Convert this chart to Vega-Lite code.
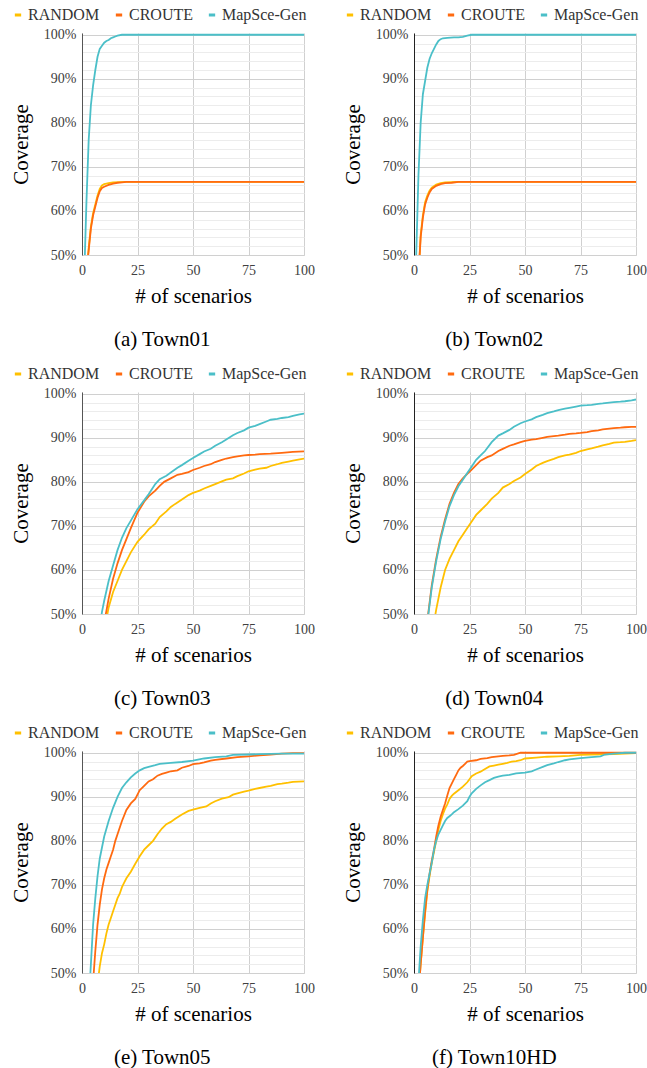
{
"$schema": "https://vega.github.io/schema/vega-lite/v6.json",
"padding": {"left": 10, "top": 7, "right": 0, "bottom": 0},
"config": {
  "font": "Liberation Serif, Times New Roman, serif",
  "view": {"stroke": null},
  "axis": {"labelFont": "Liberation Serif, Times New Roman, serif", "titleFont": "Liberation Serif, Times New Roman, serif", "labelFontSize": 14, "labelColor": "#404040", "titleFontSize": 21, "titleFontWeight": "normal", "titleColor": "#000000", "ticks": false, "labelOverlap": false, "labelFlush": false},
  "legend": {"labelFont": "Liberation Serif, Times New Roman, serif"},
  "title": {"font": "Liberation Serif, Times New Roman, serif", "fontSize": 21, "fontWeight": "normal", "color": "#000000", "orient": "bottom", "frame": "bounds", "anchor": "middle", "offset": 23}
},
"spacing": {"row": 16, "column": 27},
"columns": 2,
"resolve": {"scale": {"color": "independent"}, "legend": {"color": "independent"}},
"datasets": {"d": [
{"t":"a","m":"R","x":0,"y":35},{"t":"a","m":"R","x":2,"y":46},{"t":"a","m":"R","x":3,"y":51.5},{"t":"a","m":"R","x":4,"y":56.5},{"t":"a","m":"R","x":5,"y":59.5},{"t":"a","m":"R","x":6,"y":61.5},{"t":"a","m":"R","x":7,"y":63.5},{"t":"a","m":"R","x":8,"y":65},{"t":"a","m":"R","x":9,"y":65.8},{"t":"a","m":"R","x":10,"y":66.1},{"t":"a","m":"R","x":12,"y":66.3},{"t":"a","m":"R","x":14,"y":66.5},{"t":"a","m":"R","x":20,"y":66.6},{"t":"a","m":"R","x":100,"y":66.6},
{"t":"a","m":"C","x":0,"y":35},{"t":"a","m":"C","x":2,"y":46},{"t":"a","m":"C","x":3,"y":51},{"t":"a","m":"C","x":4,"y":56},{"t":"a","m":"C","x":5,"y":59},{"t":"a","m":"C","x":6,"y":61},{"t":"a","m":"C","x":7,"y":63},{"t":"a","m":"C","x":8,"y":64.5},{"t":"a","m":"C","x":9,"y":65.2},{"t":"a","m":"C","x":10,"y":65.5},{"t":"a","m":"C","x":12,"y":65.9},{"t":"a","m":"C","x":14,"y":66.2},{"t":"a","m":"C","x":16,"y":66.4},{"t":"a","m":"C","x":18,"y":66.5},{"t":"a","m":"C","x":20,"y":66.6},{"t":"a","m":"C","x":100,"y":66.6},
{"t":"a","m":"M","x":0,"y":30},{"t":"a","m":"M","x":1,"y":45},{"t":"a","m":"M","x":2,"y":62},{"t":"a","m":"M","x":3,"y":76},{"t":"a","m":"M","x":4,"y":84},{"t":"a","m":"M","x":5,"y":88.5},{"t":"a","m":"M","x":6,"y":92},{"t":"a","m":"M","x":7,"y":95},{"t":"a","m":"M","x":8,"y":96.8},{"t":"a","m":"M","x":9,"y":97.5},{"t":"a","m":"M","x":10,"y":98.2},{"t":"a","m":"M","x":11,"y":98.6},{"t":"a","m":"M","x":12,"y":98.8},{"t":"a","m":"M","x":13,"y":99.2},{"t":"a","m":"M","x":14,"y":99.4},{"t":"a","m":"M","x":15,"y":99.6},{"t":"a","m":"M","x":16,"y":99.8},{"t":"a","m":"M","x":18,"y":100},{"t":"a","m":"M","x":100,"y":100},
{"t":"b","m":"R","x":0,"y":30},{"t":"b","m":"R","x":2,"y":45},{"t":"b","m":"R","x":3,"y":54.5},{"t":"b","m":"R","x":4,"y":59},{"t":"b","m":"R","x":5,"y":62},{"t":"b","m":"R","x":6,"y":63.5},{"t":"b","m":"R","x":7,"y":64.6},{"t":"b","m":"R","x":8,"y":65.3},{"t":"b","m":"R","x":10,"y":66},{"t":"b","m":"R","x":12,"y":66.3},{"t":"b","m":"R","x":14,"y":66.5},{"t":"b","m":"R","x":20,"y":66.6},{"t":"b","m":"R","x":100,"y":66.6},
{"t":"b","m":"C","x":0,"y":30},{"t":"b","m":"C","x":2,"y":45},{"t":"b","m":"C","x":3,"y":54},{"t":"b","m":"C","x":4,"y":58.5},{"t":"b","m":"C","x":5,"y":61.5},{"t":"b","m":"C","x":6,"y":63},{"t":"b","m":"C","x":7,"y":64.2},{"t":"b","m":"C","x":8,"y":65},{"t":"b","m":"C","x":10,"y":65.7},{"t":"b","m":"C","x":12,"y":66.1},{"t":"b","m":"C","x":14,"y":66.3},{"t":"b","m":"C","x":17,"y":66.4},{"t":"b","m":"C","x":20,"y":66.6},{"t":"b","m":"C","x":100,"y":66.6},
{"t":"b","m":"M","x":0,"y":35},{"t":"b","m":"M","x":1,"y":50},{"t":"b","m":"M","x":2,"y":68},{"t":"b","m":"M","x":3,"y":80},{"t":"b","m":"M","x":4,"y":86.5},{"t":"b","m":"M","x":5,"y":89.5},{"t":"b","m":"M","x":6,"y":92.5},{"t":"b","m":"M","x":7,"y":94.5},{"t":"b","m":"M","x":8,"y":95.8},{"t":"b","m":"M","x":9,"y":96.8},{"t":"b","m":"M","x":10,"y":97.8},{"t":"b","m":"M","x":11,"y":98.6},{"t":"b","m":"M","x":12,"y":99},{"t":"b","m":"M","x":13,"y":99.2},{"t":"b","m":"M","x":15,"y":99.3},{"t":"b","m":"M","x":18,"y":99.4},{"t":"b","m":"M","x":20,"y":99.4},{"t":"b","m":"M","x":22,"y":99.5},{"t":"b","m":"M","x":24,"y":99.8},{"t":"b","m":"M","x":26,"y":100},{"t":"b","m":"M","x":100,"y":100},
{"t":"c","m":"R","x":0,"y":20},{"t":"c","m":"R","x":5,"y":31},{"t":"c","m":"R","x":8,"y":40},{"t":"c","m":"R","x":10,"y":46},{"t":"c","m":"R","x":12,"y":51.5},{"t":"c","m":"R","x":14,"y":55},{"t":"c","m":"R","x":16,"y":57.5},{"t":"c","m":"R","x":18,"y":60},{"t":"c","m":"R","x":20,"y":62},{"t":"c","m":"R","x":22,"y":64},{"t":"c","m":"R","x":25,"y":66.4},{"t":"c","m":"R","x":28,"y":68},{"t":"c","m":"R","x":30,"y":69.2},{"t":"c","m":"R","x":33,"y":70.5},{"t":"c","m":"R","x":35,"y":72},{"t":"c","m":"R","x":38,"y":73.3},{"t":"c","m":"R","x":40,"y":74.3},{"t":"c","m":"R","x":42,"y":75},{"t":"c","m":"R","x":45,"y":76},{"t":"c","m":"R","x":48,"y":77},{"t":"c","m":"R","x":50,"y":77.5},{"t":"c","m":"R","x":53,"y":78},{"t":"c","m":"R","x":55,"y":78.5},{"t":"c","m":"R","x":58,"y":79.1},{"t":"c","m":"R","x":60,"y":79.5},{"t":"c","m":"R","x":63,"y":80.1},{"t":"c","m":"R","x":65,"y":80.5},{"t":"c","m":"R","x":68,"y":80.8},{"t":"c","m":"R","x":70,"y":81.3},{"t":"c","m":"R","x":73,"y":81.9},{"t":"c","m":"R","x":75,"y":82.4},{"t":"c","m":"R","x":78,"y":82.8},{"t":"c","m":"R","x":80,"y":83},{"t":"c","m":"R","x":83,"y":83.2},{"t":"c","m":"R","x":85,"y":83.6},{"t":"c","m":"R","x":88,"y":84},{"t":"c","m":"R","x":90,"y":84.3},{"t":"c","m":"R","x":93,"y":84.6},{"t":"c","m":"R","x":95,"y":84.8},{"t":"c","m":"R","x":98,"y":85.1},{"t":"c","m":"R","x":100,"y":85.3},
{"t":"c","m":"C","x":0,"y":20},{"t":"c","m":"C","x":5,"y":33},{"t":"c","m":"C","x":8,"y":43},{"t":"c","m":"C","x":10,"y":48},{"t":"c","m":"C","x":12,"y":53.5},{"t":"c","m":"C","x":14,"y":58},{"t":"c","m":"C","x":16,"y":61.5},{"t":"c","m":"C","x":18,"y":64.5},{"t":"c","m":"C","x":20,"y":67},{"t":"c","m":"C","x":22,"y":69.5},{"t":"c","m":"C","x":25,"y":73},{"t":"c","m":"C","x":28,"y":75.5},{"t":"c","m":"C","x":30,"y":76.7},{"t":"c","m":"C","x":33,"y":78},{"t":"c","m":"C","x":35,"y":79.1},{"t":"c","m":"C","x":37,"y":80},{"t":"c","m":"C","x":40,"y":80.8},{"t":"c","m":"C","x":43,"y":81.6},{"t":"c","m":"C","x":45,"y":81.8},{"t":"c","m":"C","x":48,"y":82.2},{"t":"c","m":"C","x":50,"y":82.7},{"t":"c","m":"C","x":53,"y":83.2},{"t":"c","m":"C","x":55,"y":83.6},{"t":"c","m":"C","x":58,"y":84},{"t":"c","m":"C","x":60,"y":84.5},{"t":"c","m":"C","x":63,"y":85},{"t":"c","m":"C","x":65,"y":85.3},{"t":"c","m":"C","x":68,"y":85.6},{"t":"c","m":"C","x":70,"y":85.8},{"t":"c","m":"C","x":73,"y":86},{"t":"c","m":"C","x":75,"y":86.1},{"t":"c","m":"C","x":78,"y":86.2},{"t":"c","m":"C","x":80,"y":86.3},{"t":"c","m":"C","x":85,"y":86.4},{"t":"c","m":"C","x":90,"y":86.6},{"t":"c","m":"C","x":95,"y":86.8},{"t":"c","m":"C","x":100,"y":86.9},
{"t":"c","m":"M","x":0,"y":20},{"t":"c","m":"M","x":5,"y":36},{"t":"c","m":"M","x":8,"y":47},{"t":"c","m":"M","x":9,"y":50.5},{"t":"c","m":"M","x":10,"y":53},{"t":"c","m":"M","x":12,"y":57.5},{"t":"c","m":"M","x":14,"y":61},{"t":"c","m":"M","x":16,"y":64.5},{"t":"c","m":"M","x":18,"y":67.3},{"t":"c","m":"M","x":20,"y":69.5},{"t":"c","m":"M","x":22,"y":71.2},{"t":"c","m":"M","x":25,"y":73.8},{"t":"c","m":"M","x":28,"y":75.8},{"t":"c","m":"M","x":30,"y":77.2},{"t":"c","m":"M","x":33,"y":79.5},{"t":"c","m":"M","x":35,"y":80.6},{"t":"c","m":"M","x":38,"y":81.4},{"t":"c","m":"M","x":40,"y":82.1},{"t":"c","m":"M","x":43,"y":83.2},{"t":"c","m":"M","x":45,"y":83.8},{"t":"c","m":"M","x":48,"y":84.8},{"t":"c","m":"M","x":50,"y":85.4},{"t":"c","m":"M","x":53,"y":86.3},{"t":"c","m":"M","x":55,"y":86.9},{"t":"c","m":"M","x":58,"y":87.5},{"t":"c","m":"M","x":60,"y":88.2},{"t":"c","m":"M","x":63,"y":89},{"t":"c","m":"M","x":65,"y":89.6},{"t":"c","m":"M","x":68,"y":90.6},{"t":"c","m":"M","x":70,"y":91.1},{"t":"c","m":"M","x":73,"y":91.7},{"t":"c","m":"M","x":75,"y":92.3},{"t":"c","m":"M","x":78,"y":92.7},{"t":"c","m":"M","x":80,"y":93.1},{"t":"c","m":"M","x":83,"y":93.7},{"t":"c","m":"M","x":85,"y":94.1},{"t":"c","m":"M","x":88,"y":94.3},{"t":"c","m":"M","x":90,"y":94.5},{"t":"c","m":"M","x":93,"y":94.7},{"t":"c","m":"M","x":95,"y":95},{"t":"c","m":"M","x":98,"y":95.3},{"t":"c","m":"M","x":100,"y":95.5},
{"t":"d","m":"R","x":0,"y":20},{"t":"d","m":"R","x":8,"y":44},{"t":"d","m":"R","x":9,"y":48},{"t":"d","m":"R","x":10,"y":51},{"t":"d","m":"R","x":12,"y":56},{"t":"d","m":"R","x":14,"y":60},{"t":"d","m":"R","x":16,"y":62.5},{"t":"d","m":"R","x":18,"y":64.5},{"t":"d","m":"R","x":20,"y":66.5},{"t":"d","m":"R","x":22,"y":68},{"t":"d","m":"R","x":24,"y":69.5},{"t":"d","m":"R","x":26,"y":71},{"t":"d","m":"R","x":28,"y":72.5},{"t":"d","m":"R","x":30,"y":73.5},{"t":"d","m":"R","x":33,"y":75},{"t":"d","m":"R","x":35,"y":76.2},{"t":"d","m":"R","x":38,"y":77.5},{"t":"d","m":"R","x":40,"y":78.7},{"t":"d","m":"R","x":43,"y":79.5},{"t":"d","m":"R","x":45,"y":80.2},{"t":"d","m":"R","x":48,"y":81},{"t":"d","m":"R","x":50,"y":81.8},{"t":"d","m":"R","x":53,"y":82.8},{"t":"d","m":"R","x":55,"y":83.6},{"t":"d","m":"R","x":58,"y":84.3},{"t":"d","m":"R","x":60,"y":84.7},{"t":"d","m":"R","x":63,"y":85.2},{"t":"d","m":"R","x":65,"y":85.6},{"t":"d","m":"R","x":68,"y":86},{"t":"d","m":"R","x":70,"y":86.2},{"t":"d","m":"R","x":73,"y":86.6},{"t":"d","m":"R","x":75,"y":87},{"t":"d","m":"R","x":78,"y":87.4},{"t":"d","m":"R","x":80,"y":87.6},{"t":"d","m":"R","x":83,"y":88},{"t":"d","m":"R","x":85,"y":88.3},{"t":"d","m":"R","x":88,"y":88.6},{"t":"d","m":"R","x":90,"y":88.9},{"t":"d","m":"R","x":93,"y":89},{"t":"d","m":"R","x":95,"y":89.1},{"t":"d","m":"R","x":98,"y":89.3},{"t":"d","m":"R","x":100,"y":89.5},
{"t":"d","m":"C","x":0,"y":15},{"t":"d","m":"C","x":5,"y":44},{"t":"d","m":"C","x":6,"y":48.5},{"t":"d","m":"C","x":7,"y":52.5},{"t":"d","m":"C","x":8,"y":56.5},{"t":"d","m":"C","x":10,"y":62.5},{"t":"d","m":"C","x":12,"y":67.5},{"t":"d","m":"C","x":14,"y":71.5},{"t":"d","m":"C","x":16,"y":75},{"t":"d","m":"C","x":18,"y":77.5},{"t":"d","m":"C","x":20,"y":79.5},{"t":"d","m":"C","x":22,"y":80.8},{"t":"d","m":"C","x":24,"y":81.8},{"t":"d","m":"C","x":26,"y":82.8},{"t":"d","m":"C","x":28,"y":83.8},{"t":"d","m":"C","x":30,"y":84.8},{"t":"d","m":"C","x":33,"y":85.6},{"t":"d","m":"C","x":35,"y":86},{"t":"d","m":"C","x":38,"y":87},{"t":"d","m":"C","x":40,"y":87.5},{"t":"d","m":"C","x":43,"y":88.2},{"t":"d","m":"C","x":45,"y":88.5},{"t":"d","m":"C","x":48,"y":89},{"t":"d","m":"C","x":50,"y":89.3},{"t":"d","m":"C","x":53,"y":89.6},{"t":"d","m":"C","x":55,"y":89.7},{"t":"d","m":"C","x":58,"y":90},{"t":"d","m":"C","x":60,"y":90.2},{"t":"d","m":"C","x":63,"y":90.4},{"t":"d","m":"C","x":65,"y":90.5},{"t":"d","m":"C","x":68,"y":90.7},{"t":"d","m":"C","x":70,"y":90.9},{"t":"d","m":"C","x":73,"y":91},{"t":"d","m":"C","x":75,"y":91.1},{"t":"d","m":"C","x":78,"y":91.3},{"t":"d","m":"C","x":80,"y":91.5},{"t":"d","m":"C","x":83,"y":91.7},{"t":"d","m":"C","x":85,"y":91.9},{"t":"d","m":"C","x":88,"y":92.1},{"t":"d","m":"C","x":90,"y":92.2},{"t":"d","m":"C","x":93,"y":92.3},{"t":"d","m":"C","x":95,"y":92.4},{"t":"d","m":"C","x":98,"y":92.5},{"t":"d","m":"C","x":100,"y":92.5},
{"t":"d","m":"M","x":0,"y":15},{"t":"d","m":"M","x":5,"y":44},{"t":"d","m":"M","x":6,"y":48},{"t":"d","m":"M","x":7,"y":52},{"t":"d","m":"M","x":8,"y":56},{"t":"d","m":"M","x":10,"y":62},{"t":"d","m":"M","x":12,"y":67},{"t":"d","m":"M","x":14,"y":71},{"t":"d","m":"M","x":16,"y":74.5},{"t":"d","m":"M","x":18,"y":77},{"t":"d","m":"M","x":20,"y":79},{"t":"d","m":"M","x":22,"y":80.5},{"t":"d","m":"M","x":24,"y":82},{"t":"d","m":"M","x":26,"y":83.5},{"t":"d","m":"M","x":28,"y":85},{"t":"d","m":"M","x":30,"y":86},{"t":"d","m":"M","x":32,"y":87},{"t":"d","m":"M","x":35,"y":89},{"t":"d","m":"M","x":38,"y":90.5},{"t":"d","m":"M","x":40,"y":91},{"t":"d","m":"M","x":43,"y":91.8},{"t":"d","m":"M","x":45,"y":92.5},{"t":"d","m":"M","x":48,"y":93.3},{"t":"d","m":"M","x":50,"y":93.7},{"t":"d","m":"M","x":53,"y":94.2},{"t":"d","m":"M","x":55,"y":94.7},{"t":"d","m":"M","x":58,"y":95.2},{"t":"d","m":"M","x":60,"y":95.6},{"t":"d","m":"M","x":63,"y":96},{"t":"d","m":"M","x":65,"y":96.3},{"t":"d","m":"M","x":68,"y":96.6},{"t":"d","m":"M","x":70,"y":96.8},{"t":"d","m":"M","x":73,"y":97.1},{"t":"d","m":"M","x":75,"y":97.3},{"t":"d","m":"M","x":78,"y":97.4},{"t":"d","m":"M","x":80,"y":97.5},{"t":"d","m":"M","x":83,"y":97.7},{"t":"d","m":"M","x":85,"y":97.8},{"t":"d","m":"M","x":88,"y":98},{"t":"d","m":"M","x":90,"y":98.1},{"t":"d","m":"M","x":93,"y":98.2},{"t":"d","m":"M","x":95,"y":98.3},{"t":"d","m":"M","x":98,"y":98.5},{"t":"d","m":"M","x":100,"y":98.7},
{"t":"e","m":"R","x":0,"y":20},{"t":"e","m":"R","x":5,"y":38},{"t":"e","m":"R","x":6,"y":43},{"t":"e","m":"R","x":7,"y":47.5},{"t":"e","m":"R","x":8,"y":51.5},{"t":"e","m":"R","x":9,"y":54.5},{"t":"e","m":"R","x":10,"y":56.5},{"t":"e","m":"R","x":11,"y":59},{"t":"e","m":"R","x":12,"y":61},{"t":"e","m":"R","x":13,"y":62.5},{"t":"e","m":"R","x":14,"y":64},{"t":"e","m":"R","x":15,"y":65.5},{"t":"e","m":"R","x":16,"y":67},{"t":"e","m":"R","x":17,"y":68},{"t":"e","m":"R","x":18,"y":69.5},{"t":"e","m":"R","x":19,"y":70.5},{"t":"e","m":"R","x":20,"y":71.5},{"t":"e","m":"R","x":22,"y":73},{"t":"e","m":"R","x":24,"y":74.8},{"t":"e","m":"R","x":26,"y":76.5},{"t":"e","m":"R","x":28,"y":78},{"t":"e","m":"R","x":30,"y":79},{"t":"e","m":"R","x":32,"y":80},{"t":"e","m":"R","x":34,"y":81.5},{"t":"e","m":"R","x":36,"y":82.8},{"t":"e","m":"R","x":38,"y":83.8},{"t":"e","m":"R","x":40,"y":84.3},{"t":"e","m":"R","x":42,"y":85},{"t":"e","m":"R","x":45,"y":86},{"t":"e","m":"R","x":48,"y":86.8},{"t":"e","m":"R","x":50,"y":87.1},{"t":"e","m":"R","x":53,"y":87.5},{"t":"e","m":"R","x":56,"y":87.8},{"t":"e","m":"R","x":58,"y":88.5},{"t":"e","m":"R","x":60,"y":89},{"t":"e","m":"R","x":63,"y":89.6},{"t":"e","m":"R","x":66,"y":89.9},{"t":"e","m":"R","x":68,"y":90.5},{"t":"e","m":"R","x":70,"y":90.8},{"t":"e","m":"R","x":73,"y":91.2},{"t":"e","m":"R","x":75,"y":91.4},{"t":"e","m":"R","x":78,"y":91.8},{"t":"e","m":"R","x":80,"y":92},{"t":"e","m":"R","x":83,"y":92.3},{"t":"e","m":"R","x":85,"y":92.5},{"t":"e","m":"R","x":88,"y":92.9},{"t":"e","m":"R","x":90,"y":93},{"t":"e","m":"R","x":93,"y":93.2},{"t":"e","m":"R","x":95,"y":93.4},{"t":"e","m":"R","x":100,"y":93.5},
{"t":"e","m":"C","x":0,"y":20},{"t":"e","m":"C","x":3,"y":36},{"t":"e","m":"C","x":4,"y":42},{"t":"e","m":"C","x":5,"y":48},{"t":"e","m":"C","x":6,"y":55},{"t":"e","m":"C","x":7,"y":61},{"t":"e","m":"C","x":8,"y":65.5},{"t":"e","m":"C","x":9,"y":69},{"t":"e","m":"C","x":10,"y":71.5},{"t":"e","m":"C","x":11,"y":73.5},{"t":"e","m":"C","x":12,"y":75},{"t":"e","m":"C","x":13,"y":76.5},{"t":"e","m":"C","x":14,"y":78},{"t":"e","m":"C","x":15,"y":80},{"t":"e","m":"C","x":16,"y":81.5},{"t":"e","m":"C","x":18,"y":84.5},{"t":"e","m":"C","x":20,"y":87},{"t":"e","m":"C","x":22,"y":88.5},{"t":"e","m":"C","x":24,"y":89.5},{"t":"e","m":"C","x":26,"y":91.5},{"t":"e","m":"C","x":28,"y":92.5},{"t":"e","m":"C","x":30,"y":93.5},{"t":"e","m":"C","x":32,"y":94},{"t":"e","m":"C","x":34,"y":94.8},{"t":"e","m":"C","x":36,"y":95.2},{"t":"e","m":"C","x":38,"y":95.5},{"t":"e","m":"C","x":40,"y":95.8},{"t":"e","m":"C","x":43,"y":96},{"t":"e","m":"C","x":45,"y":96.6},{"t":"e","m":"C","x":48,"y":97},{"t":"e","m":"C","x":50,"y":97.4},{"t":"e","m":"C","x":53,"y":97.6},{"t":"e","m":"C","x":55,"y":97.8},{"t":"e","m":"C","x":58,"y":98.2},{"t":"e","m":"C","x":60,"y":98.4},{"t":"e","m":"C","x":65,"y":98.7},{"t":"e","m":"C","x":70,"y":99},{"t":"e","m":"C","x":75,"y":99.2},{"t":"e","m":"C","x":80,"y":99.4},{"t":"e","m":"C","x":85,"y":99.6},{"t":"e","m":"C","x":90,"y":99.8},{"t":"e","m":"C","x":95,"y":99.9},{"t":"e","m":"C","x":100,"y":99.9},
{"t":"e","m":"M","x":0,"y":20},{"t":"e","m":"M","x":2,"y":35},{"t":"e","m":"M","x":3,"y":43},{"t":"e","m":"M","x":4,"y":52},{"t":"e","m":"M","x":5,"y":61},{"t":"e","m":"M","x":6,"y":67},{"t":"e","m":"M","x":7,"y":72},{"t":"e","m":"M","x":8,"y":76},{"t":"e","m":"M","x":9,"y":78.5},{"t":"e","m":"M","x":10,"y":81},{"t":"e","m":"M","x":12,"y":84.5},{"t":"e","m":"M","x":14,"y":87.5},{"t":"e","m":"M","x":16,"y":90},{"t":"e","m":"M","x":18,"y":92},{"t":"e","m":"M","x":20,"y":93.3},{"t":"e","m":"M","x":22,"y":94.4},{"t":"e","m":"M","x":24,"y":95.3},{"t":"e","m":"M","x":26,"y":96},{"t":"e","m":"M","x":28,"y":96.5},{"t":"e","m":"M","x":30,"y":96.8},{"t":"e","m":"M","x":33,"y":97.2},{"t":"e","m":"M","x":35,"y":97.5},{"t":"e","m":"M","x":40,"y":97.7},{"t":"e","m":"M","x":45,"y":97.9},{"t":"e","m":"M","x":50,"y":98.2},{"t":"e","m":"M","x":55,"y":98.7},{"t":"e","m":"M","x":60,"y":99},{"t":"e","m":"M","x":65,"y":99.2},{"t":"e","m":"M","x":68,"y":99.5},{"t":"e","m":"M","x":75,"y":99.6},{"t":"e","m":"M","x":80,"y":99.7},{"t":"e","m":"M","x":90,"y":99.8},{"t":"e","m":"M","x":100,"y":99.8},
{"t":"f","m":"R","x":0,"y":30},{"t":"f","m":"R","x":2,"y":45},{"t":"f","m":"R","x":3,"y":52},{"t":"f","m":"R","x":4,"y":58},{"t":"f","m":"R","x":5,"y":63.5},{"t":"f","m":"R","x":6,"y":68.5},{"t":"f","m":"R","x":7,"y":72},{"t":"f","m":"R","x":8,"y":75},{"t":"f","m":"R","x":9,"y":77.5},{"t":"f","m":"R","x":10,"y":80},{"t":"f","m":"R","x":11,"y":82.5},{"t":"f","m":"R","x":12,"y":84.5},{"t":"f","m":"R","x":13,"y":86},{"t":"f","m":"R","x":14,"y":87.3},{"t":"f","m":"R","x":15,"y":88.3},{"t":"f","m":"R","x":16,"y":89.5},{"t":"f","m":"R","x":17,"y":90.2},{"t":"f","m":"R","x":18,"y":90.7},{"t":"f","m":"R","x":20,"y":91.5},{"t":"f","m":"R","x":22,"y":92.3},{"t":"f","m":"R","x":24,"y":93.3},{"t":"f","m":"R","x":25,"y":94},{"t":"f","m":"R","x":26,"y":94.7},{"t":"f","m":"R","x":28,"y":95.3},{"t":"f","m":"R","x":30,"y":95.7},{"t":"f","m":"R","x":32,"y":96.3},{"t":"f","m":"R","x":34,"y":96.9},{"t":"f","m":"R","x":36,"y":97.1},{"t":"f","m":"R","x":38,"y":97.3},{"t":"f","m":"R","x":40,"y":97.5},{"t":"f","m":"R","x":42,"y":97.7},{"t":"f","m":"R","x":44,"y":98},{"t":"f","m":"R","x":46,"y":98.1},{"t":"f","m":"R","x":48,"y":98.3},{"t":"f","m":"R","x":50,"y":98.7},{"t":"f","m":"R","x":55,"y":98.9},{"t":"f","m":"R","x":60,"y":99.1},{"t":"f","m":"R","x":65,"y":99.2},{"t":"f","m":"R","x":70,"y":99.3},{"t":"f","m":"R","x":75,"y":99.5},{"t":"f","m":"R","x":80,"y":99.6},{"t":"f","m":"R","x":90,"y":99.7},{"t":"f","m":"R","x":100,"y":99.9},
{"t":"f","m":"C","x":0,"y":30},{"t":"f","m":"C","x":2,"y":45},{"t":"f","m":"C","x":3,"y":52},{"t":"f","m":"C","x":4,"y":58},{"t":"f","m":"C","x":5,"y":64},{"t":"f","m":"C","x":6,"y":69},{"t":"f","m":"C","x":7,"y":72.5},{"t":"f","m":"C","x":8,"y":75.5},{"t":"f","m":"C","x":9,"y":78},{"t":"f","m":"C","x":10,"y":81},{"t":"f","m":"C","x":11,"y":83.5},{"t":"f","m":"C","x":12,"y":85.5},{"t":"f","m":"C","x":13,"y":87},{"t":"f","m":"C","x":14,"y":88.5},{"t":"f","m":"C","x":15,"y":90.3},{"t":"f","m":"C","x":16,"y":92},{"t":"f","m":"C","x":17,"y":93},{"t":"f","m":"C","x":18,"y":94},{"t":"f","m":"C","x":19,"y":95},{"t":"f","m":"C","x":20,"y":96},{"t":"f","m":"C","x":21,"y":96.6},{"t":"f","m":"C","x":22,"y":97},{"t":"f","m":"C","x":23,"y":97.5},{"t":"f","m":"C","x":24,"y":98},{"t":"f","m":"C","x":25,"y":98.1},{"t":"f","m":"C","x":28,"y":98.3},{"t":"f","m":"C","x":30,"y":98.6},{"t":"f","m":"C","x":33,"y":98.8},{"t":"f","m":"C","x":35,"y":99},{"t":"f","m":"C","x":38,"y":99.2},{"t":"f","m":"C","x":40,"y":99.3},{"t":"f","m":"C","x":43,"y":99.4},{"t":"f","m":"C","x":45,"y":99.5},{"t":"f","m":"C","x":48,"y":100},{"t":"f","m":"C","x":100,"y":100},
{"t":"f","m":"M","x":0,"y":30},{"t":"f","m":"M","x":2,"y":48},{"t":"f","m":"M","x":3,"y":56},{"t":"f","m":"M","x":4,"y":62},{"t":"f","m":"M","x":5,"y":67},{"t":"f","m":"M","x":6,"y":70},{"t":"f","m":"M","x":7,"y":72.5},{"t":"f","m":"M","x":8,"y":75},{"t":"f","m":"M","x":9,"y":78},{"t":"f","m":"M","x":10,"y":80},{"t":"f","m":"M","x":11,"y":81.5},{"t":"f","m":"M","x":12,"y":82.5},{"t":"f","m":"M","x":13,"y":83.5},{"t":"f","m":"M","x":14,"y":84.5},{"t":"f","m":"M","x":15,"y":85.2},{"t":"f","m":"M","x":16,"y":85.6},{"t":"f","m":"M","x":17,"y":86},{"t":"f","m":"M","x":18,"y":86.5},{"t":"f","m":"M","x":20,"y":87.2},{"t":"f","m":"M","x":22,"y":88},{"t":"f","m":"M","x":23,"y":88.5},{"t":"f","m":"M","x":24,"y":89},{"t":"f","m":"M","x":25,"y":90},{"t":"f","m":"M","x":26,"y":90.8},{"t":"f","m":"M","x":28,"y":91.8},{"t":"f","m":"M","x":30,"y":92.6},{"t":"f","m":"M","x":32,"y":93.3},{"t":"f","m":"M","x":34,"y":93.8},{"t":"f","m":"M","x":36,"y":94.3},{"t":"f","m":"M","x":38,"y":94.6},{"t":"f","m":"M","x":40,"y":94.8},{"t":"f","m":"M","x":43,"y":95},{"t":"f","m":"M","x":46,"y":95.3},{"t":"f","m":"M","x":50,"y":95.5},{"t":"f","m":"M","x":53,"y":95.8},{"t":"f","m":"M","x":55,"y":96.2},{"t":"f","m":"M","x":58,"y":96.8},{"t":"f","m":"M","x":60,"y":97.2},{"t":"f","m":"M","x":63,"y":97.6},{"t":"f","m":"M","x":65,"y":97.9},{"t":"f","m":"M","x":68,"y":98.3},{"t":"f","m":"M","x":70,"y":98.5},{"t":"f","m":"M","x":75,"y":98.8},{"t":"f","m":"M","x":80,"y":99},{"t":"f","m":"M","x":84,"y":99.2},{"t":"f","m":"M","x":86,"y":99.6},{"t":"f","m":"M","x":90,"y":99.8},{"t":"f","m":"M","x":95,"y":100},{"t":"f","m":"M","x":100,"y":100}
]},
"concat": [
{"data": {"name": "d"}, "transform": [{"filter": "datum.t == 'a'"}], "width": 222, "height": 222, "title": "(a)  Town01", "mark": {"type": "line", "clip": true, "strokeWidth": 1.8},
 "encoding": {
  "x": {"field": "x", "type": "quantitative", "scale": {"domain": [0, 100], "nice": false}, "axis": {"title": "# of scenarios", "values": [0, 25, 50, 75, 100], "gridColor": "#d0d0d0", "domainColor": "#d0d0d0", "labelPadding": 8, "titlePadding": 8}},
  "y": {"field": "y", "type": "quantitative", "scale": {"domain": [50, 100.4], "nice": false, "zero": false}, "axis": {"title": "Coverage", "values": [50,52,54,56,58,60,62,64,66,68,70,72,74,76,78,80,82,84,86,88,90,92,94,96,98,100], "labelExpr": "datum.value % 10 === 0 ? datum.value + '%' : ''", "gridColor": {"condition": {"test": "datum.value % 10 === 0", "value": "#d0d0d0"}, "value": "#ececec"}, "domainColor": "#555555", "labelPadding": 6, "titlePadding": 12}},
  "color": {"field": "m", "type": "nominal", "scale": {"domain": ["R", "C", "M"], "range": ["#FFC000", "#FF6A10", "#4BBFC8"]}, "legend": {"orient": "none", "legendX": -72, "legendY": -26, "direction": "horizontal", "title": null, "labelExpr": "datum.label == 'R' ? 'RANDOM' : datum.label == 'C' ? 'CROUTE' : 'MapSce-Gen'", "symbolType": "M-1,0L1,0", "symbolSize": 40, "symbolStrokeWidth": 3, "labelFontSize": 16, "labelColor": "#333333", "labelOffset": 2, "columnPadding": 9}}
 }},
{"data": {"name": "d"}, "transform": [{"filter": "datum.t == 'b'"}], "width": 222, "height": 222, "title": "(b)  Town02", "mark": {"type": "line", "clip": true, "strokeWidth": 1.8},
 "encoding": {
  "x": {"field": "x", "type": "quantitative", "scale": {"domain": [0, 100], "nice": false}, "axis": {"title": "# of scenarios", "values": [0, 25, 50, 75, 100], "gridColor": "#d0d0d0", "domainColor": "#d0d0d0", "labelPadding": 8, "titlePadding": 8}},
  "y": {"field": "y", "type": "quantitative", "scale": {"domain": [50, 100.4], "nice": false, "zero": false}, "axis": {"title": "Coverage", "values": [50,52,54,56,58,60,62,64,66,68,70,72,74,76,78,80,82,84,86,88,90,92,94,96,98,100], "labelExpr": "datum.value % 10 === 0 ? datum.value + '%' : ''", "gridColor": {"condition": {"test": "datum.value % 10 === 0", "value": "#d0d0d0"}, "value": "#ececec"}, "domainColor": "#222222", "labelPadding": 6, "titlePadding": 12}},
  "color": {"field": "m", "type": "nominal", "scale": {"domain": ["R", "C", "M"], "range": ["#FFC000", "#FF6A10", "#4BBFC8"]}, "legend": {"orient": "none", "legendX": -72, "legendY": -26, "direction": "horizontal", "title": null, "labelExpr": "datum.label == 'R' ? 'RANDOM' : datum.label == 'C' ? 'CROUTE' : 'MapSce-Gen'", "symbolType": "M-1,0L1,0", "symbolSize": 40, "symbolStrokeWidth": 3, "labelFontSize": 16, "labelColor": "#333333", "labelOffset": 2, "columnPadding": 9}}
 }},
{"data": {"name": "d"}, "transform": [{"filter": "datum.t == 'c'"}], "width": 222, "height": 222, "title": "(c)  Town03", "mark": {"type": "line", "clip": true, "strokeWidth": 1.8},
 "encoding": {
  "x": {"field": "x", "type": "quantitative", "scale": {"domain": [0, 100], "nice": false}, "axis": {"title": "# of scenarios", "values": [0, 25, 50, 75, 100], "gridColor": "#d0d0d0", "domainColor": "#d0d0d0", "labelPadding": 8, "titlePadding": 8}},
  "y": {"field": "y", "type": "quantitative", "scale": {"domain": [50, 100.4], "nice": false, "zero": false}, "axis": {"title": "Coverage", "values": [50,52,54,56,58,60,62,64,66,68,70,72,74,76,78,80,82,84,86,88,90,92,94,96,98,100], "labelExpr": "datum.value % 10 === 0 ? datum.value + '%' : ''", "gridColor": {"condition": {"test": "datum.value % 10 === 0", "value": "#d0d0d0"}, "value": "#ececec"}, "domainColor": "#555555", "labelPadding": 6, "titlePadding": 12}},
  "color": {"field": "m", "type": "nominal", "scale": {"domain": ["R", "C", "M"], "range": ["#FFC000", "#FF6A10", "#4BBFC8"]}, "legend": {"orient": "none", "legendX": -72, "legendY": -26, "direction": "horizontal", "title": null, "labelExpr": "datum.label == 'R' ? 'RANDOM' : datum.label == 'C' ? 'CROUTE' : 'MapSce-Gen'", "symbolType": "M-1,0L1,0", "symbolSize": 40, "symbolStrokeWidth": 3, "labelFontSize": 16, "labelColor": "#333333", "labelOffset": 2, "columnPadding": 9}}
 }},
{"data": {"name": "d"}, "transform": [{"filter": "datum.t == 'd'"}], "width": 222, "height": 222, "title": "(d)  Town04", "mark": {"type": "line", "clip": true, "strokeWidth": 1.8},
 "encoding": {
  "x": {"field": "x", "type": "quantitative", "scale": {"domain": [0, 100], "nice": false}, "axis": {"title": "# of scenarios", "values": [0, 25, 50, 75, 100], "gridColor": "#d0d0d0", "domainColor": "#d0d0d0", "labelPadding": 8, "titlePadding": 8}},
  "y": {"field": "y", "type": "quantitative", "scale": {"domain": [50, 100.4], "nice": false, "zero": false}, "axis": {"title": "Coverage", "values": [50,52,54,56,58,60,62,64,66,68,70,72,74,76,78,80,82,84,86,88,90,92,94,96,98,100], "labelExpr": "datum.value % 10 === 0 ? datum.value + '%' : ''", "gridColor": {"condition": {"test": "datum.value % 10 === 0", "value": "#d0d0d0"}, "value": "#ececec"}, "domainColor": "#222222", "labelPadding": 6, "titlePadding": 12}},
  "color": {"field": "m", "type": "nominal", "scale": {"domain": ["R", "C", "M"], "range": ["#FFC000", "#FF6A10", "#4BBFC8"]}, "legend": {"orient": "none", "legendX": -72, "legendY": -26, "direction": "horizontal", "title": null, "labelExpr": "datum.label == 'R' ? 'RANDOM' : datum.label == 'C' ? 'CROUTE' : 'MapSce-Gen'", "symbolType": "M-1,0L1,0", "symbolSize": 40, "symbolStrokeWidth": 3, "labelFontSize": 16, "labelColor": "#333333", "labelOffset": 2, "columnPadding": 9}}
 }},
{"data": {"name": "d"}, "transform": [{"filter": "datum.t == 'e'"}], "width": 222, "height": 222, "title": "(e)  Town05", "mark": {"type": "line", "clip": true, "strokeWidth": 1.8},
 "encoding": {
  "x": {"field": "x", "type": "quantitative", "scale": {"domain": [0, 100], "nice": false}, "axis": {"title": "# of scenarios", "values": [0, 25, 50, 75, 100], "gridColor": "#d0d0d0", "domainColor": "#d0d0d0", "labelPadding": 8, "titlePadding": 8}},
  "y": {"field": "y", "type": "quantitative", "scale": {"domain": [50, 100.4], "nice": false, "zero": false}, "axis": {"title": "Coverage", "values": [50,52,54,56,58,60,62,64,66,68,70,72,74,76,78,80,82,84,86,88,90,92,94,96,98,100], "labelExpr": "datum.value % 10 === 0 ? datum.value + '%' : ''", "gridColor": {"condition": {"test": "datum.value % 10 === 0", "value": "#d0d0d0"}, "value": "#ececec"}, "domainColor": "#555555", "labelPadding": 6, "titlePadding": 12}},
  "color": {"field": "m", "type": "nominal", "scale": {"domain": ["R", "C", "M"], "range": ["#FFC000", "#FF6A10", "#4BBFC8"]}, "legend": {"orient": "none", "legendX": -72, "legendY": -26, "direction": "horizontal", "title": null, "labelExpr": "datum.label == 'R' ? 'RANDOM' : datum.label == 'C' ? 'CROUTE' : 'MapSce-Gen'", "symbolType": "M-1,0L1,0", "symbolSize": 40, "symbolStrokeWidth": 3, "labelFontSize": 16, "labelColor": "#333333", "labelOffset": 2, "columnPadding": 9}}
 }},
{"data": {"name": "d"}, "transform": [{"filter": "datum.t == 'f'"}], "width": 222, "height": 222, "title": "(f)  Town10HD", "mark": {"type": "line", "clip": true, "strokeWidth": 1.8},
 "encoding": {
  "x": {"field": "x", "type": "quantitative", "scale": {"domain": [0, 100], "nice": false}, "axis": {"title": "# of scenarios", "values": [0, 25, 50, 75, 100], "gridColor": "#d0d0d0", "domainColor": "#d0d0d0", "labelPadding": 8, "titlePadding": 8}},
  "y": {"field": "y", "type": "quantitative", "scale": {"domain": [50, 100.4], "nice": false, "zero": false}, "axis": {"title": "Coverage", "values": [50,52,54,56,58,60,62,64,66,68,70,72,74,76,78,80,82,84,86,88,90,92,94,96,98,100], "labelExpr": "datum.value % 10 === 0 ? datum.value + '%' : ''", "gridColor": {"condition": {"test": "datum.value % 10 === 0", "value": "#d0d0d0"}, "value": "#ececec"}, "domainColor": "#222222", "labelPadding": 6, "titlePadding": 12}},
  "color": {"field": "m", "type": "nominal", "scale": {"domain": ["R", "C", "M"], "range": ["#FFC000", "#FF6A10", "#4BBFC8"]}, "legend": {"orient": "none", "legendX": -72, "legendY": -26, "direction": "horizontal", "title": null, "labelExpr": "datum.label == 'R' ? 'RANDOM' : datum.label == 'C' ? 'CROUTE' : 'MapSce-Gen'", "symbolType": "M-1,0L1,0", "symbolSize": 40, "symbolStrokeWidth": 3, "labelFontSize": 16, "labelColor": "#333333", "labelOffset": 2, "columnPadding": 9}}
 }}
]
}
